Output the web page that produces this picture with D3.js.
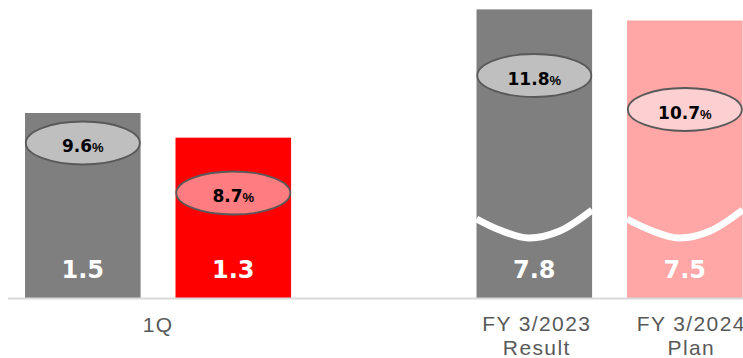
<!DOCTYPE html>
<html>
<head>
<meta charset="utf-8">
<script src="https://cdn.jsdelivr.net/npm/d3@7/dist/d3.min.js"></script>
<style>
  html, body { margin: 0; padding: 0; background: #ffffff; }
  svg { display: block; }
</style>
</head>
<body>
<svg id="chart" width="743" height="358"></svg>
<script>
// ---------------- data ----------------
const barKeys   = ["1Q FY3/2023", "1Q FY3/2024", "FY 3/2023 Result", "FY 3/2024 Plan"];
const barGroup  = ["Q", "Q", "FY", "FY"];
const values    = [1.5, 1.3, 7.8, 7.5];           // bar values
const ratios    = [9.6, 8.7, 11.8, 10.7];         // % shown in ellipses
const categoryLabels = [["1Q"], ["FY 3/2023", "Result"], ["FY 3/2024", "Plan"]];
const categoryBars   = [[0, 1], [2], [3]];        // which bars each category label sits under

// ---------------- styles ----------------
const barColors     = ["#7f7f7f", "#ff0000", "#7f7f7f", "#ffa6a6"];
const ellipseColors = ["#bfbfbf", "#ff7c80", "#bfbfbf", "#fccfd0"];
const labelDx       = [0, 2.5, 6.5];

const svg = d3.select("#chart");
const W = 743, H = 358;
const baseY = 298;

// x: band scale with a spacer slot between the quarter and full-year groups
const x = d3.scaleBand()
  .domain([barKeys[0], barKeys[1], "__gap__", barKeys[2], barKeys[3]])
  .range([25, 742.6])
  .paddingInner(0.232)
  .paddingOuter(0);

// y scales (the full-year bars use a broken, compressed scale)
const yQ  = d3.scaleLinear().domain([0, 2.4]).range([baseY, 2]);
const yFY = d3.scaleLinear().domain([0, 8]).range([baseY, 2]);
const yOf = i => barGroup[i] === "Q" ? yQ : yFY;

// ratio (ellipse) scales
const rQ  = d3.scaleLinear().domain([8.7, 9.6]).range([193, 143]);
const rFY = d3.scaleLinear().domain([10.7, 11.8]).range([109.5, 75.5]);
const rOf = i => barGroup[i] === "Q" ? rQ : rFY;

const bw = x.bandwidth();
const cx = i => x(barKeys[i]) + bw / 2;

// bars
svg.append("g").selectAll("rect")
  .data(values)
  .join("rect")
  .attr("x", (d, i) => x(barKeys[i]))
  .attr("y", (d, i) => yOf(i)(d))
  .attr("width", bw)
  .attr("height", (d, i) => baseY - yOf(i)(d))
  .attr("fill", (d, i) => barColors[i]);

// break waves on full-year bars
const waveShape = [[0, 219], [0.2, 230], [0.45, 238], [0.72, 231], [1, 210]];
const waveLine = d3.line().curve(d3.curveCatmullRom.alpha(0.5));
svg.append("g").selectAll("path")
  .data(values.map((d, i) => i).filter(i => barGroup[i] === "FY"))
  .join("path")
  .attr("d", i => waveLine(waveShape.map(p => [x(barKeys[i]) + p[0] * bw, p[1]])))
  .attr("fill", "none")
  .attr("stroke", "#ffffff")
  .attr("stroke-width", 7)
  .attr("stroke-linecap", "butt");

// baseline
svg.append("line")
  .attr("x1", 8).attr("x2", W)
  .attr("y1", baseY + 0.5).attr("y2", baseY + 0.5)
  .attr("stroke", "#d9d9d9")
  .attr("stroke-width", 2);

// value labels
svg.append("g").selectAll("text")
  .data(values)
  .join("text")
  .attr("x", (d, i) => cx(i))
  .attr("y", 278)
  .attr("text-anchor", "middle")
  .attr("font-family", "DejaVu Sans, Verdana, sans-serif")
  .attr("font-weight", "bold")
  .attr("font-size", 24)
  .attr("fill", "#ffffff")
  .text(d => d.toFixed(1));

// ellipses with ratios
const eg = svg.append("g").selectAll("g")
  .data(ratios)
  .join("g");
eg.append("ellipse")
  .attr("cx", (d, i) => cx(i))
  .attr("cy", (d, i) => rOf(i)(d))
  .attr("rx", 57)
  .attr("ry", 21.5)
  .attr("fill", (d, i) => ellipseColors[i])
  .attr("stroke", "#595959")
  .attr("stroke-width", 1.8);
const et = eg.append("text")
  .attr("x", (d, i) => cx(i))
  .attr("y", (d, i) => rOf(i)(d) + 9)
  .attr("text-anchor", "middle")
  .attr("font-family", "DejaVu Sans, Verdana, sans-serif")
  .attr("font-weight", "bold")
  .attr("fill", "#000000");
et.append("tspan").attr("font-size", 17).text(d => d.toFixed(1));
et.append("tspan").attr("font-size", 13).attr("font-family", "Liberation Sans, Arial, sans-serif").text("%");

// category labels
const cg = svg.append("g").selectAll("text")
  .data(categoryLabels)
  .join("text")
  .attr("x", (d, k) => d3.mean(categoryBars[k], i => cx(i)) + labelDx[k])
  .attr("y", (d, k) => k === 0 ? 332 : 331)
  .attr("text-anchor", "middle")
  .attr("font-family", "Liberation Sans, Arial, sans-serif")
  .attr("font-size", 21)
  .attr("letter-spacing", 1.4)
  .attr("fill", "#595959");
cg.selectAll("tspan")
  .data(d => d)
  .join("tspan")
  .attr("x", function() { return d3.select(this.parentNode).attr("x"); })
  .attr("dy", (d, j) => j === 0 ? 0 : 24)
  .text(d => d);
</script>
</body>
</html>
